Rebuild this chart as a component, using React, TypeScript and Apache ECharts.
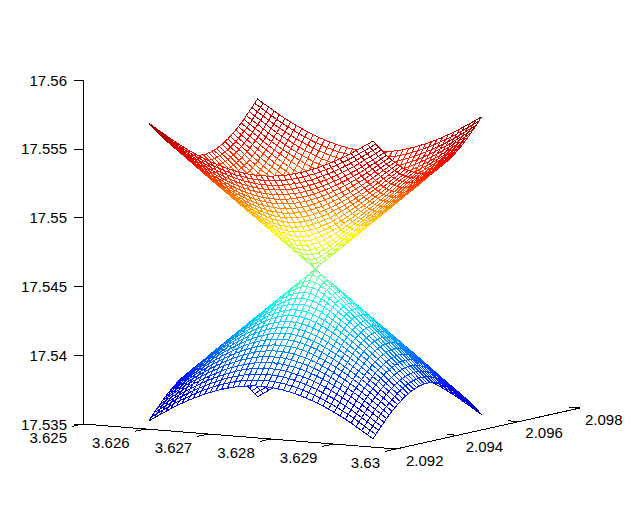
import React, { useEffect, useRef } from "react";
import * as echarts from "echarts";

const xGrid = [3.6257,3.62579,3.62588,3.62597,3.62605,3.62614,3.62623,3.62632,3.62641,3.6265,3.62659,3.62668,3.62677,3.62686,3.62695,3.62704,3.62713,3.62722,3.62731,3.6274,3.62749,3.62758,3.62767,3.62776,3.62785,3.62794,3.62803,3.62812,3.62821,3.6283,3.62839,3.62848,3.62857,3.62866,3.62875,3.62884,3.62893,3.62901,3.6291,3.62919,3.62928];
const yGrid = [2.09272,2.09281,2.0929,2.09299,2.09308,2.09316,2.09325,2.09334,2.09343,2.09352,2.09361,2.09369,2.09378,2.09387,2.09396,2.09405,2.09414,2.09422,2.09431,2.0944,2.09449,2.09458,2.09467,2.09476,2.09484,2.09493,2.09502,2.09511,2.0952,2.09529,2.09537,2.09546,2.09555,2.09564,2.09573,2.09582,2.0959,2.09599,2.09608,2.09617,2.09626];
const coneCentre = 17.54594;
// |z - centre| in 1e-5 units, read for one quadrant of the mesh (row: y steps from centre, column: x steps from centre)
const coneHeight = [
[0,38,77,115,153,191,230,268,306,344,383,421,459,497,536,574,612,650,689,727,765],
[38,54,86,121,158,195,233,270,308,346,384,422,461,499,537,575,613,651,690,728,766],
[77,86,108,138,171,206,242,278,315,353,390,428,465,503,541,579,617,655,693,731,769],
[115,121,138,162,191,223,257,291,327,363,399,436,473,510,548,585,623,660,698,736,774],
[153,158,171,191,216,245,276,308,342,377,412,448,484,520,557,594,631,668,705,743,780],
[191,195,206,223,245,270,299,329,361,394,428,462,497,533,569,605,641,678,715,751,789],
[230,233,242,257,276,299,325,353,383,414,446,479,513,548,583,618,654,690,726,762,799],
[268,270,278,291,308,329,353,379,407,436,467,499,531,565,599,633,668,703,739,774,811],
[306,308,315,327,342,361,383,407,433,461,490,520,552,584,617,650,684,719,753,789,824],
[344,346,353,363,377,394,414,436,461,487,515,544,574,605,637,669,702,736,770,804,839],
[383,384,390,399,412,428,446,467,490,515,541,569,597,627,658,690,722,754,788,821,855],
[421,422,428,436,448,462,479,499,520,544,569,595,623,651,681,711,743,774,807,840,873],
[459,461,465,473,484,497,513,531,552,574,597,623,649,677,705,735,765,796,827,860,892],
[497,499,503,510,520,533,548,565,584,605,627,651,677,703,731,759,789,819,849,881,912],
[536,537,541,548,557,569,583,599,617,637,658,681,705,731,757,785,813,842,872,903,934],
[574,575,579,585,594,605,618,633,650,669,690,711,735,759,785,811,839,867,896,926,956],
[612,613,617,623,631,641,654,668,684,702,722,743,765,789,813,839,865,893,921,950,980],
[650,651,655,660,668,678,690,703,719,736,754,774,796,819,842,867,893,920,947,975,1004],
[689,690,693,698,705,715,726,739,753,770,788,807,827,849,872,896,921,947,974,1001,1029],
[727,728,731,736,743,751,762,774,789,804,821,840,860,881,903,926,950,975,1001,1028,1055],
[765,766,769,774,780,789,799,811,824,839,855,873,892,912,934,956,980,1004,1029,1055,1082],
];
const xTicks = [3.625,3.626,3.627,3.628,3.629,3.63];
const yTicks = [2.092,2.094,2.096,2.098];
const xLabels = ["3.625","3.626","3.627","3.628","3.629","3.63"];
const yLabels = ["2.092","2.094","2.096","2.098"];
const jetStops: [number, number[]][] = [[0,[0,0,170]],[0.1,[0,0,255]],[0.375,[0,255,255]],[0.625,[255,255,0]],[0.87,[255,0,0]],[1,[140,0,0]]];

const X_MIN = 3.625, X_MAX = 3.63, Y_MIN = 2.092, Y_MAX = 2.098, Z_MIN = 17.535, Z_MAX = 17.56;
const Y_DX = 184, Y_DY = -41, X_DY = 25;
const FONT = '15px "Liberation Sans", Arial, sans-serif';

const jet = (t: number) => {
  const v = Math.max(0, Math.min(1, t));
  for (let k = 1; k < jetStops.length; k++) {
    if (v <= jetStops[k][0]) {
      const [a, ca] = jetStops[k - 1];
      const [b, cb] = jetStops[k];
      const f = (v - a) / (b - a);
      const c = ca.map((p, n) => Math.round(p + (cb[n] - p) * f));
      return `rgb(${c[0]},${c[1]},${c[2]})`;
    }
  }
  return "rgb(140,0,0)";
};

const height = (i: number, j: number) => coneHeight[Math.abs(j - 20)][Math.abs(i - 20)] * 1e-5;
const zAt = (side: number, i: number, j: number) => coneCentre + side * height(i, j);
const project = (api: any, x: number, y: number, z: number) => {
  const p = api.coord([x, z]);
  const fx = (x - X_MIN) / (X_MAX - X_MIN);
  const fy = (y - Y_MIN) / (Y_MAX - Y_MIN);
  return [p[0] + Y_DX * fy, p[1] + X_DY * fx + Y_DY * fy];
};

const cells: number[][] = [];
for (const side of [-1, 1]) {
  for (let i = 0; i < xGrid.length - 1; i++) {
    for (let j = yGrid.length - 2; j >= 0; j--) cells.push([side, i, j]);
  }
}
const zLow = coneCentre - height(0, 0);
const zHigh = coneCentre + height(0, 0);

const meshItem = (_: any, api: any) => {
  const side = api.value(0), i = api.value(1), j = api.value(2);
  const corners = [[i, j], [i + 1, j], [i + 1, j + 1], [i, j + 1]];
  let sum = 0;
  const points = corners.map(([a, b]) => {
    const z = zAt(side, a, b);
    sum += z;
    return project(api, xGrid[a], yGrid[b], z);
  });
  const t = (sum / 4 - zLow) / (zHigh - zLow);
  return { type: "polygon", shape: { points }, style: { fill: "#fff", stroke: jet(t), lineWidth: 1 } };
};

const lineStyle = { stroke: "#000", lineWidth: 1, fill: "none" };
const axisLines = (_: any, api: any) => {
  const a = project(api, api.value(0), api.value(1), Z_MIN);
  const b = project(api, api.value(2), api.value(3), Z_MIN);
  return { type: "line", shape: { x1: a[0], y1: a[1], x2: b[0], y2: b[1] }, style: lineStyle };
};
const xTickItem = (_: any, api: any) => {
  const k = api.value(0);
  const p = project(api, xTicks[k], Y_MIN, Z_MIN);
  return {
    type: "group",
    children: [
      { type: "line", shape: { x1: p[0], y1: p[1], x2: p[0] - 11, y2: p[1] + 2.4 }, style: lineStyle },
      { type: "text", x: p[0] - 16, y: p[1] + 13, style: { text: xLabels[k], font: FONT, fill: "#000", textAlign: "right", textVerticalAlign: "middle" } },
    ],
  };
};
const yTickItem = (_: any, api: any) => {
  const k = api.value(0);
  const p = project(api, X_MAX, yTicks[k], Z_MIN);
  const fy = (yTicks[k] - Y_MIN) / (Y_MAX - Y_MIN);
  return {
    type: "group",
    children: [
      { type: "line", shape: { x1: p[0], y1: p[1], x2: p[0] - 10.5, y2: p[1] - 0.9 }, style: lineStyle },
      { type: "text", x: p[0] + 10 - 5 * fy, y: p[1] + 11, style: { text: yLabels[k], font: FONT, fill: "#000", textAlign: "left", textVerticalAlign: "middle" } },
    ],
  };
};

export default function App() {
  const ref = useRef<HTMLDivElement>(null);
  useEffect(() => {
    const chart = echarts.init(ref.current!, undefined, { renderer: "svg" });
    chart.setOption({
      animation: false,
      backgroundColor: "#fff",
      grid: { left: 83, top: 80, width: 313, height: 344 },
      xAxis: { type: "value", min: X_MIN, max: X_MAX, show: false },
      yAxis: {
        type: "value",
        min: Z_MIN,
        max: Z_MAX,
        interval: 0.005,
        axisLine: { show: true, lineStyle: { color: "#000", width: 1 } },
        axisTick: { show: true, length: 9, lineStyle: { color: "#000", width: 1 } },
        axisLabel: { color: "#000", fontSize: 15, fontFamily: '"Liberation Sans", Arial, sans-serif', margin: 16 },
        splitLine: { show: false },
      },
      series: [
        { type: "custom", renderItem: axisLines, data: [[X_MIN, Y_MIN, X_MAX, Y_MIN], [X_MAX, Y_MIN, X_MAX, Y_MAX]], encode: { x: 0, y: 1 }, silent: true, clip: false },
        { type: "custom", renderItem: xTickItem, data: xTicks.map((_, k) => [k]), silent: true, clip: false },
        { type: "custom", renderItem: yTickItem, data: yTicks.map((_, k) => [k]), silent: true, clip: false },
        { type: "custom", renderItem: meshItem, data: cells, silent: true, clip: false, progressive: 0 },
      ],
    });
    return () => chart.dispose();
  }, []);
  return (
    <>
      <style>{"svg path{shape-rendering:crispEdges}"}</style>
      <div ref={ref} style={{ position: "fixed", left: 0, top: 0, width: 631, height: 505 }} />
    </>
  );
}
